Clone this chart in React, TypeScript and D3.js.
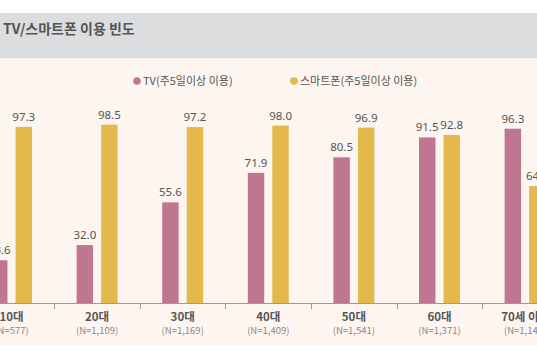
import React, { useRef, useEffect } from 'react';
import * as d3 from 'd3';

const categories = ['10대', '20대', '30대', '40대', '50대', '60대', '70세 이상'];
const sampleSizes = ['(N=577)', '(N=1,109)', '(N=1,169)', '(N=1,409)', '(N=1,541)', '(N=1,371)', '(N=1,146)'];
const tvValues = [23.6, 32.0, 55.6, 71.9, 80.5, 91.5, 96.3];
const phoneValues = [97.3, 98.5, 97.2, 98.0, 96.9, 92.8, 64.6];
const seriesNames = ['TV(주5일이상 이용)', '스마트폰(주5일이상 이용)'];
const seriesColors = ['#bf7691', '#e4b84b'];

const width = 537;
const height = 360;
const font = '"Noto Sans CJK KR", "Noto Sans", sans-serif';

const App: React.FC = () => {
  const svgRef = useRef<SVGSVGElement>(null);

  useEffect(() => {
    if (!svgRef.current) return;
    const svg = d3.select(svgRef.current);
    svg.selectAll('*').remove();

    // backgrounds
    svg.append('rect').attr('x', 0).attr('y', 0).attr('width', width).attr('height', height).attr('fill', '#ffffff');
    svg.append('rect').attr('x', 0).attr('y', 13).attr('width', width).attr('height', 45).attr('fill', '#dcdddf');
    svg.append('rect').attr('x', 0).attr('y', 58).attr('width', width).attr('height', 287).attr('fill', '#fdf6f0');

    svg.append('text')
      .attr('x', 3).attr('y', 34)
      .attr('font-family', font).attr('font-size', 14).attr('font-weight', 700)
      .attr('fill', '#555').text('TV/스마트폰 이용 빈도');

    const baseline = 303;
    const step = 85.6;
    const x0 = 11.5 - step / 2;
    const x = d3.scaleBand<string>()
      .domain(categories)
      .range([x0, x0 + step * categories.length])
      .padding(0);

    const xSub = d3.scaleBand<string>()
      .domain(['tv', 'phone'])
      .range([-20.5, 20.5])
      .paddingInner(0.33);

    const y = d3.scaleLinear().domain([0, 100]).range([baseline, baseline - 181]);

    // legend
    const legendX = [137, 294];
    seriesNames.forEach((name, i) => {
      svg.append('circle').attr('cx', legendX[i]).attr('cy', 81).attr('r', 3.8).attr('fill', seriesColors[i]);
      svg.append('text')
        .attr('x', legendX[i] + 6).attr('y', 85)
        .attr('font-family', font).attr('font-size', 11)
        .attr('fill', '#555').text(name);
    });

    const groups = svg.append('g');
    categories.forEach((c, i) => {
      const cx = (x(c) || 0) + x.bandwidth() / 2;
      const vals = [tvValues[i], phoneValues[i]];
      ['tv', 'phone'].forEach((k, j) => {
        const bx = cx + (xSub(k) || 0);
        groups.append('rect')
          .attr('x', bx).attr('y', y(vals[j]))
          .attr('width', xSub.bandwidth()).attr('height', baseline - y(vals[j]))
          .attr('fill', seriesColors[j]);
        groups.append('text')
          .attr('x', bx + xSub.bandwidth() / 2).attr('y', y(vals[j]) - 6)
          .attr('text-anchor', 'middle')
          .attr('font-family', '"Noto Sans", sans-serif').attr('font-size', 11.5)
          .attr('fill', '#555').text(vals[j].toFixed(1));
      });
      svg.append('text')
        .attr('x', cx).attr('y', 321).attr('text-anchor', 'middle')
        .attr('font-family', font).attr('font-size', 11.5).attr('font-weight', 700)
        .attr('fill', '#555').text(c);
      svg.append('text')
        .attr('x', cx).attr('y', 334).attr('text-anchor', 'middle')
        .attr('font-family', font).attr('font-size', 9.5)
        .attr('fill', '#888').text(sampleSizes[i]);
    });

    // axis
    svg.append('line')
      .attr('x1', 0).attr('x2', width).attr('y1', baseline + 0.5).attr('y2', baseline + 0.5)
      .attr('stroke', '#9a9a9a').attr('stroke-width', 1);
    categories.slice(1).forEach(c => {
      const tx = Math.round(x(c) || 0) + 0.5;
      svg.append('line')
        .attr('x1', tx).attr('x2', tx).attr('y1', baseline).attr('y2', baseline + 6)
        .attr('stroke', '#9a9a9a').attr('stroke-width', 1);
    });
  }, []);

  return (
    <svg ref={svgRef} width={width} height={height} style={{ position: 'absolute', left: 0, top: 0 }} />
  );
};

export default App;
